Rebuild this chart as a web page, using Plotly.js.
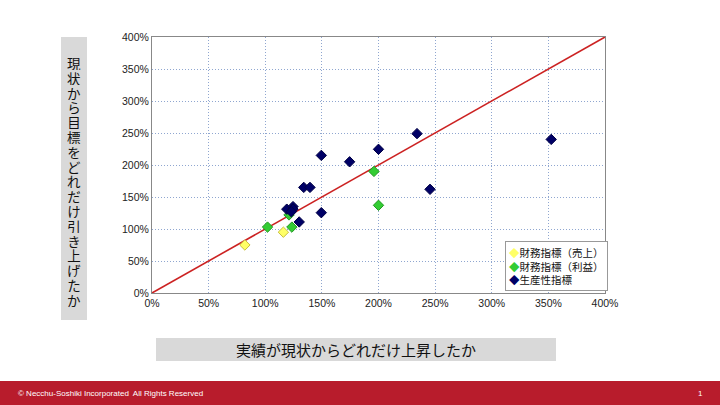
<!DOCTYPE html>
<html><head><meta charset="utf-8">
<script src="https://cdn.plot.ly/plotly-3.0.1.min.js"></script>
<style>html,body{margin:0;padding:0;background:#fff;}#chart{width:720px;height:405px;}</style>
</head><body><div id="chart"></div>
<script>
// Data (ratios: 1 = 100%)
const salesX = [0.82, 1.16];
const salesY = [0.75, 0.95];
const profitX = [1.02, 1.21, 1.235, 1.96, 2.00];
const profitY = [1.03, 1.22, 1.03, 1.90, 1.37];
const prodX = [1.495, 1.745, 1.34, 1.395, 1.19, 1.245, 1.245, 1.23, 1.30, 1.495, 2.00, 2.34, 2.455, 3.525];
const prodY = [2.15, 2.05, 1.65, 1.65, 1.31, 1.35, 1.31, 1.27, 1.11, 1.255, 2.245, 2.49, 1.62, 2.40];
const refLine = [0, 4];
const tickVals = [0, 0.5, 1, 1.5, 2, 2.5, 3, 3.5, 4];
const tickText = ['0%','50%','100%','150%','200%','250%','300%','350%','400%'];
const seriesNames = ['財務指標（売上）','財務指標（利益）','生産性指標'];
const seriesColors = ['#ffff66', '#33cc33', '#000066'];
const seriesLines = ['#c8c040', '#229922', '#000044'];
const yTitle = '現状から目標をどれだけ引き上げたか';
const xTitle = '実績が現状からどれだけ上昇したか';
const footerText = '© Necchu-Soshiki Incorporated  All Rights Reserved';
const pageNo = '1';

const L = 152, R = 605, T = 37, B = 293, W = 720, H = 405;
const px = v => (v - L) / (R - L);
const py = v => (B - v) / (B - T);

const xs = [salesX, profitX, prodX], ys = [salesY, profitY, prodY];
const traces = [
  {x: refLine, y: refLine, mode: 'lines', line: {color: '#cc2222', width: 1.6}, showlegend: false, hoverinfo: 'skip'}
].concat(seriesNames.map((n, i) => ({
  x: xs[i], y: ys[i], mode: 'markers', name: n, showlegend: false,
  marker: {symbol: 'diamond', size: 8, color: seriesColors[i], line: {color: seriesLines[i], width: 1}}
})));

const yAnn = yTitle.split('').map((ch, i) => ({
  xref: 'paper', yref: 'paper', x: px(74), y: py(63 + i * 14.8), xanchor: 'center', yanchor: 'middle',
  text: ch, showarrow: false, height: 14, width: 18,
  font: {family: 'Noto Sans CJK JP, sans-serif', size: 13.5, color: '#111'}
}));

const legendText = seriesNames.map((n, i) =>
  `<span style="color:${seriesColors[i]}">◆</span>${n}`).join('<br>');

const gridDash = '1px,2px';
const layout = {
  width: W, height: H,
  margin: {l: L, r: W - R, t: T, b: H - B},
  paper_bgcolor: '#ffffff', plot_bgcolor: '#ffffff',
  font: {family: 'Liberation Sans, Arial, sans-serif', size: 10, color: '#222'},
  showlegend: false,
  xaxis: {range: [0, 4], tickvals: tickVals, ticktext: tickText, showgrid: true,
    gridcolor: '#8fa6d0', griddash: gridDash, gridwidth: 1, zeroline: false,
    showline: true, linecolor: '#888', mirror: true, ticks: '', ticklen: 0,
    tickfont: {size: 10.5, color: '#222'}, fixedrange: true},
  yaxis: {range: [0, 4], tickvals: tickVals, ticktext: tickText, showgrid: true,
    gridcolor: '#8fa6d0', griddash: gridDash, gridwidth: 1, zeroline: false,
    showline: true, linecolor: '#888', mirror: true, ticks: '', ticklen: 0,
    tickfont: {size: 10.5, color: '#222'}, fixedrange: true},
  shapes: [
    {type: 'rect', xref: 'paper', yref: 'paper', x0: px(61), x1: px(87), y0: py(320), y1: py(37),
     fillcolor: '#d9d9d9', line: {width: 0}, layer: 'below'},
    {type: 'rect', xref: 'paper', yref: 'paper', x0: px(156), x1: px(556), y0: py(361), y1: py(338),
     fillcolor: '#d9d9d9', line: {width: 0}, layer: 'below'},
    {type: 'rect', xref: 'paper', yref: 'paper', x0: px(0), x1: px(720), y0: py(405), y1: py(381),
     fillcolor: '#b81c2c', line: {width: 0}, layer: 'below'}
  ],
  annotations: yAnn.concat([
    {xref: 'paper', yref: 'paper', x: px(505), y: py(291), xanchor: 'left', yanchor: 'bottom',
     text: legendText, showarrow: false, align: 'left',
     bgcolor: '#ffffff', bordercolor: '#999999', borderwidth: 1, borderpad: 3,
     font: {family: 'Noto Sans CJK JP, sans-serif', size: 10.5, color: '#111'}},
    {xref: 'paper', yref: 'paper', x: px(356), y: py(349.5), xanchor: 'center', yanchor: 'middle',
     text: xTitle, showarrow: false,
     font: {family: 'Noto Sans CJK JP, sans-serif', size: 15, color: '#111'}},
    {xref: 'paper', yref: 'paper', x: px(16), y: py(393), xanchor: 'left', yanchor: 'middle',
     text: footerText, showarrow: false,
     font: {family: 'Liberation Sans, Arial, sans-serif', size: 8, color: '#ffffff'}},
    {xref: 'paper', yref: 'paper', x: px(700), y: py(393), xanchor: 'center', yanchor: 'middle',
     text: pageNo, showarrow: false,
     font: {family: 'Liberation Sans, Arial, sans-serif', size: 8, color: '#ffffff'}}
  ])
};

Plotly.newPlot('chart', traces, layout, {displayModeBar: false, staticPlot: true});
</script></body></html>
